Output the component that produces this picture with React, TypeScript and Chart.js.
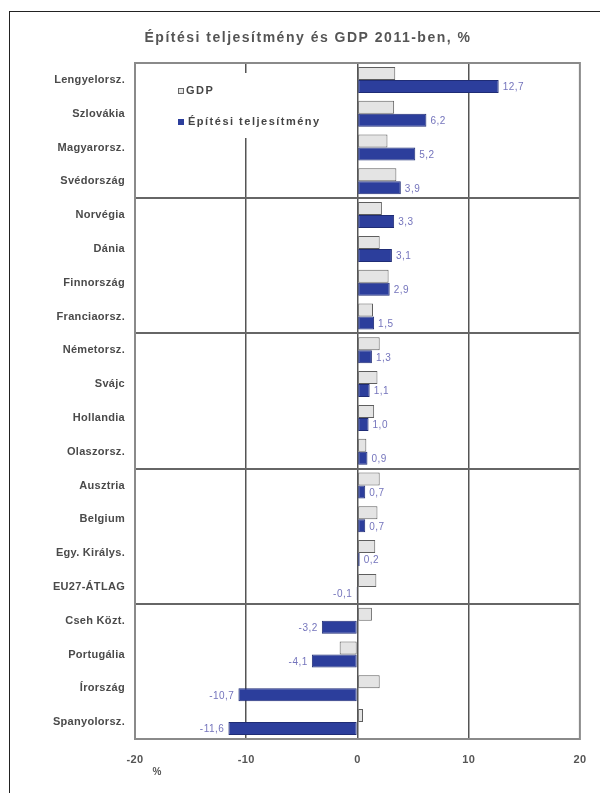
import React, { useEffect, useRef } from "react";
import { Chart, registerables } from "chart.js";

Chart.register(...registerables);

const categories = [
  "Lengyelorsz.", "Szlovákia", "Magyarorsz.", "Svédország",
  "Norvégia", "Dánia", "Finnország", "Franciaorsz.",
  "Németorsz.", "Svájc", "Hollandia", "Olaszorsz.",
  "Ausztria", "Belgium", "Egy. Királys.", "EU27-ÁTLAG",
  "Cseh Közt.", "Portugália", "Írország", "Spanyolorsz.",
];

const gdpValues = [
  3.4, 3.3, 2.7, 3.5,
  2.2, 2.0, 2.8, 1.4,
  2.0, 1.8, 1.5, 0.8,
  2.0, 1.8, 1.6, 1.7,
  1.3, -1.6, 2.0, 0.5,
];

const constructionValues = [
  12.7, 6.2, 5.2, 3.9,
  3.3, 3.1, 2.9, 1.5,
  1.3, 1.1, 1.0, 0.9,
  0.7, 0.7, 0.2, -0.1,
  -3.2, -4.1, -10.7, -11.6,
];

const xTicks = [-20, -10, 0, 10, 20];

const titleText = "Építési teljesítmény és GDP 2011-ben, %";
const seriesNames = ["GDP", "Építési teljesítmény"];
const unitText = "%";

const FONT = "'Liberation Sans', Arial, sans-serif";
const BLUE = "#2c3e9c";
const GDP_FILL = "#e4e4e4";

const decorPlugin = {
  id: "decor",
  beforeDraw(chart: any) {
    chart.ctx.letterSpacing = "0.3px";
  },
  beforeDatasetsDraw(chart: any) {
    const ctx = chart.ctx;
    const a = chart.chartArea;
    ctx.save();
    // legend background
    ctx.fillStyle = "#ffffff";
    ctx.fillRect(a.left + 35, a.top + 10, 160, 65);
    const sx = a.left + 43;
    ctx.font = `bold 11px ${FONT}`;
    ctx.letterSpacing = "1.5px";
    ctx.textBaseline = "middle";
    ctx.textAlign = "left";
    // GDP
    ctx.fillStyle = GDP_FILL;
    ctx.fillRect(sx, a.top + 25, 6, 6);
    ctx.strokeStyle = "#666";
    ctx.lineWidth = 1;
    ctx.strokeRect(sx + 0.5, a.top + 25.5, 5, 5);
    ctx.fillStyle = "#444";
    ctx.fillText(seriesNames[0], sx + 8, a.top + 28);
    // construction
    ctx.fillStyle = BLUE;
    ctx.fillRect(sx, a.top + 56, 6, 6);
    ctx.fillStyle = "#444";
    ctx.fillText(seriesNames[1], sx + 10, a.top + 59);
    ctx.restore();
  },
  afterDatasetsDraw(chart: any) {
    const ctx = chart.ctx;
    const a = chart.chartArea;
    ctx.save();
    // plot border
    ctx.strokeStyle = "#8a8a8a";
    ctx.lineWidth = 2;
    ctx.strokeRect(a.left, a.top, a.right - a.left, a.bottom - a.top);
    // data labels
    const meta = chart.getDatasetMeta(1);
    ctx.font = `10px ${FONT}`;
    ctx.letterSpacing = "0.5px";
    ctx.fillStyle = "#7474bc";
    ctx.textBaseline = "middle";
    meta.data.forEach((el: any, i: number) => {
      const v = constructionValues[i];
      const txt = v.toFixed(1).replace(".", ",");
      if (v >= 0) {
        ctx.textAlign = "left";
        ctx.fillText(txt, el.x + 4, el.y + 1);
      } else {
        ctx.textAlign = "right";
        ctx.fillText(txt, el.x - 4, el.y + 1);
      }
    });
    // title
    ctx.font = `bold 14px ${FONT}`;
    ctx.letterSpacing = "1.5px";
    ctx.fillStyle = "#555";
    ctx.textAlign = "center";
    ctx.textBaseline = "middle";
    ctx.fillText(titleText, 308, 38);
    // unit
    ctx.font = `bold 10px ${FONT}`;
    ctx.letterSpacing = "0px";
    ctx.fillStyle = "#555";
    ctx.fillText(unitText, a.left + 22, a.bottom + 33);
    ctx.restore();
  },
};

export default function App() {
  const ref = useRef<HTMLCanvasElement | null>(null);

  useEffect(() => {
    if (!ref.current) return;
    const chart = new Chart(ref.current, {
      type: "bar",
      data: {
        labels: categories,
        datasets: [
          {
            label: seriesNames[0],
            data: gdpValues,
            backgroundColor: GDP_FILL,
            borderColor: "#5e5e5e",
            borderWidth: 1,
            borderSkipped: false,
          },
          {
            label: seriesNames[1],
            data: constructionValues,
            backgroundColor: BLUE,
            borderColor: "#1f2c75",
            borderWidth: 1,
            borderSkipped: false,
          },
        ],
      },
      options: {
        indexAxis: "y",
        responsive: false,
        animation: false,
        devicePixelRatio: 1,
        categoryPercentage: 0.77,
        barPercentage: 1.0,
        layout: { padding: { top: 63, right: 19, bottom: 0, left: 0 } },
        plugins: {
          legend: { display: false },
          title: { display: false },
          tooltip: { enabled: false },
        },
        scales: {
          x: {
            type: "linear",
            min: xTicks[0],
            max: xTicks[xTicks.length - 1],
            afterBuildTicks: (scale: any) => {
              scale.ticks = xTicks.map((v) => ({ value: v }));
            },
            afterFit: (scale: any) => {
              scale.height = 54;
            },
            ticks: {
              padding: 14,
              color: "#555",
              font: { family: FONT, size: 11, weight: "bold" },
              callback: (v: any) => String(v),
            },
            grid: {
              drawTicks: false,
              color: (c: any) =>
                c.tick && (c.tick.value === -20 || c.tick.value === 20) ? "rgba(0,0,0,0)" : "#555",
              lineWidth: 1.5,
            },
            border: { display: false },
          },
          y: {
            type: "category",
            afterFit: (scale: any) => {
              scale.width = 135;
            },
            ticks: {
              padding: 10,
              color: "#4a4a4a",
              font: { family: FONT, size: 11, weight: "bold" },
              autoSkip: false,
            },
            grid: {
              drawTicks: false,
              offset: true,
              color: (c: any) =>
                c.index > 0 && c.index < categories.length && c.index % 4 === 0 ? "#666" : "rgba(0,0,0,0)",
              lineWidth: 2,
            },
            border: { display: false },
          },
        },
      } as any,
      plugins: [decorPlugin],
    });
    return () => chart.destroy();
  }, []);

  return (
    <div style={{ position: "absolute", left: 0, top: 0, width: 600, height: 793, overflow: "hidden", background: "#fff" }}>
      <div
        style={{
          position: "absolute",
          left: 9,
          top: 11,
          width: 620,
          height: 800,
          borderLeft: "1px solid #222",
          borderTop: "1px solid #222",
        }}
      />
      <canvas
        ref={ref}
        width={600}
        height={793}
        style={{ position: "absolute", left: 0, top: 0, width: 600, height: 793 }}
      />
    </div>
  );
}
